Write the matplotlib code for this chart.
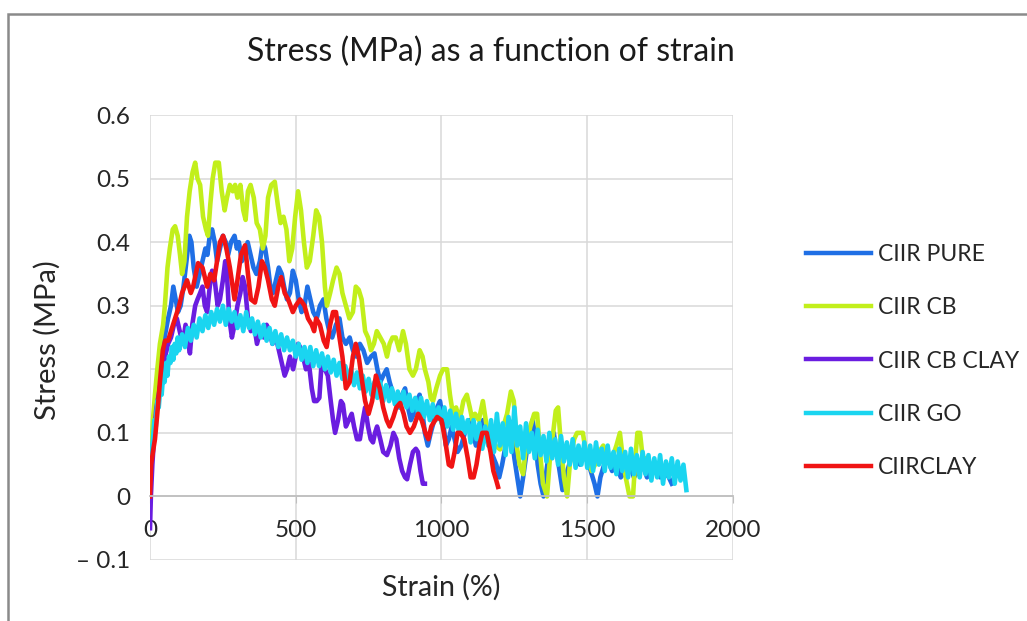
import matplotlib.pyplot as plt
from matplotlib.patches import Rectangle

plt.rcParams['font.family'] = ['Lato', 'DejaVu Sans']

# series names / colours (Excel order, later ones drawn on top)
names = ['CIIR PURE', 'CIIR CB', 'CIIR CB CLAY', 'CIIR GO', 'CIIRCLAY']
colors = ['#1f6fe5', '#c2ef1b', '#6a1de0', '#1ad5f0', '#f01414']

# CIIR PURE
pure_x = [0, 5, 12, 20, 30, 40, 50, 62, 72, 80, 88, 96, 105, 115, 125, 135, 142, 150, 160, 170,
          180, 190, 197, 205, 213, 222, 230, 240, 250, 260, 268, 278, 290, 298, 305, 315, 325, 335,
          345, 355, 365, 377, 387, 395, 405, 413, 422, 432, 442, 452, 460, 470, 480, 490, 500, 510,
          520, 530, 540, 550, 560, 572, 583, 595, 605, 615, 625, 638, 650, 660, 672, 685, 696, 708,
          720, 732, 745, 758, 770, 780, 790, 800, 812, 822, 835, 845, 855, 865, 875, 885, 895, 905,
          915, 925, 935, 943, 953, 963, 975, 985, 995, 1005, 1015, 1025, 1035, 1045, 1055, 1068,
          1080, 1095, 1108, 1118, 1130, 1142, 1155, 1165, 1175, 1188, 1198, 1208, 1220, 1232, 1240,
          1250, 1260, 1270, 1280, 1292, 1302, 1312, 1320, 1330, 1340, 1350, 1360, 1372, 1385, 1395,
          1405, 1415, 1425, 1438, 1450, 1462, 1475, 1488, 1500, 1512, 1525, 1535, 1545, 1558, 1570,
          1585, 1600, 1615, 1630, 1645, 1660, 1675, 1690, 1705, 1720, 1735, 1750, 1765, 1780, 1790]
pure_y = [0.0, 0.05, 0.10, 0.15, 0.19, 0.22, 0.25, 0.28, 0.30, 0.33, 0.31, 0.29, 0.30, 0.33, 0.37,
          0.41, 0.40, 0.36, 0.33, 0.35, 0.37, 0.39, 0.38, 0.41, 0.42, 0.40, 0.37, 0.39, 0.41, 0.40,
          0.38, 0.40, 0.41, 0.39, 0.40, 0.37, 0.38, 0.40, 0.38, 0.36, 0.35, 0.37, 0.40, 0.39, 0.36,
          0.33, 0.32, 0.34, 0.36, 0.35, 0.33, 0.31, 0.32, 0.355, 0.34, 0.31, 0.29, 0.30, 0.33, 0.31,
          0.29, 0.28, 0.30, 0.31, 0.28, 0.26, 0.25, 0.27, 0.28, 0.25, 0.24, 0.25, 0.23, 0.22, 0.24,
          0.23, 0.21, 0.22, 0.225, 0.20, 0.18, 0.19, 0.20, 0.18, 0.16, 0.15, 0.14, 0.16, 0.17, 0.14,
          0.12, 0.13, 0.15, 0.16, 0.13, 0.10, 0.08, 0.10, 0.12, 0.14, 0.15, 0.12, 0.08, 0.09, 0.11,
          0.09, 0.07, 0.08, 0.10, 0.12, 0.10, 0.08, 0.09, 0.12, 0.10, 0.08, 0.065, 0.05, 0.03, 0.05,
          0.08, 0.12, 0.10, 0.06, 0.03, 0.0, 0.03, 0.07, 0.10, 0.12, 0.10, 0.05, 0.02, 0.0, 0.04,
          0.08, 0.10, 0.07, 0.04, 0.01, 0.03, 0.05, 0.07, 0.06, 0.05, 0.07, 0.06, 0.04, 0.02, 0.0,
          0.03, 0.05, 0.06, 0.04, 0.05, 0.03, 0.04, 0.05, 0.03, 0.04, 0.05, 0.03, 0.04, 0.05, 0.03,
          0.04, 0.03, 0.02]

# CIIR CB
cb_x = [0, 5, 10, 17, 25, 34, 45, 51, 60, 68, 78, 86, 95, 103, 110, 118, 127, 136, 146, 155, 163,
        172, 182, 192, 199, 207, 215, 224, 236, 246, 256, 264, 274, 284, 292, 300, 310, 320, 328,
        336, 345, 356, 366, 377, 387, 396, 405, 416, 428, 438, 448, 458, 468, 478, 488, 498, 508,
        518, 528, 538, 548, 560, 570, 580, 590, 600, 607, 618, 628, 640, 650, 660, 672, 684, 696,
        706, 716, 726, 738, 748, 758, 768, 778, 790, 802, 813, 822, 832, 843, 855, 868, 878, 890,
        902, 912, 925, 935, 943, 955, 963, 971, 982, 995, 1005, 1019, 1029, 1039, 1050, 1062, 1075,
        1087, 1097, 1106, 1115, 1128, 1142, 1155, 1170, 1185, 1201, 1212, 1225, 1238, 1248, 1258,
        1268, 1280, 1290, 1305, 1318, 1328, 1338, 1348, 1362, 1372, 1383, 1392, 1400, 1410, 1420,
        1431, 1442, 1455, 1465, 1475, 1485, 1495, 1505, 1515, 1527, 1540, 1555, 1570, 1585, 1600,
        1612, 1622, 1632, 1645, 1657, 1665, 1672, 1681, 1688, 1694, 1700]
cb_y = [0.05, 0.08, 0.12, 0.16, 0.20, 0.24, 0.27, 0.30, 0.36, 0.39, 0.42, 0.425, 0.41, 0.38, 0.35,
        0.37, 0.44, 0.48, 0.51, 0.525, 0.50, 0.49, 0.44, 0.42, 0.41, 0.46, 0.50, 0.525, 0.525, 0.48,
        0.45, 0.47, 0.49, 0.48, 0.49, 0.47, 0.49, 0.45, 0.435, 0.48, 0.49, 0.47, 0.43, 0.42, 0.39,
        0.41, 0.47, 0.49, 0.495, 0.46, 0.43, 0.44, 0.42, 0.37, 0.39, 0.44, 0.48, 0.45, 0.40, 0.36,
        0.37, 0.41, 0.45, 0.44, 0.40, 0.33, 0.30, 0.32, 0.34, 0.36, 0.35, 0.32, 0.30, 0.28, 0.29,
        0.33, 0.325, 0.31, 0.26, 0.25, 0.23, 0.24, 0.26, 0.25, 0.24, 0.22, 0.24, 0.25, 0.25, 0.23,
        0.26, 0.24, 0.20, 0.19, 0.20, 0.23, 0.22, 0.20, 0.18, 0.155, 0.15, 0.17, 0.19, 0.20, 0.20,
        0.16, 0.13, 0.14, 0.12, 0.15, 0.16, 0.14, 0.12, 0.13, 0.12, 0.15, 0.11, 0.09, 0.08, 0.074,
        0.11, 0.13, 0.165, 0.15, 0.08, 0.05, 0.035, 0.08, 0.11, 0.13, 0.13, 0.07, 0.02, 0.0, 0.06,
        0.10, 0.135, 0.14, 0.08, 0.03, 0.0, 0.06, 0.09, 0.10, 0.10, 0.10, 0.07, 0.06, 0.04, 0.05,
        0.07, 0.08, 0.06, 0.06, 0.08, 0.10, 0.06, 0.03, 0.0, 0.0, 0.06, 0.10, 0.10, 0.07, 0.05, 0.06]

# CIIR CB CLAY
cbclay_x = [0, 3, 8, 15, 22, 30, 40, 52, 62, 72, 82, 92, 102, 112, 122, 132, 137, 145, 155, 163,
            172, 180, 188, 196, 205, 213, 222, 232, 240, 250, 258, 264, 272, 281, 290, 300, 310,
            318, 326, 336, 346, 357, 367, 378, 390, 400, 410, 420, 432, 442, 452, 462, 470, 480,
            491, 500, 508, 515, 525, 535, 545, 555, 563, 572, 581, 590, 600, 610, 620, 628, 635,
            645, 655, 662, 672, 682, 692, 700, 710, 720, 730, 738, 748, 757, 765, 772, 779, 790,
            800, 813, 825, 835, 845, 855, 865, 875, 882, 892, 902, 912, 919, 928, 936, 943]
cbclay_y = [-0.05, 0.0, 0.05, 0.10, 0.14, 0.16, 0.19, 0.22, 0.24, 0.25, 0.27, 0.28, 0.26, 0.24,
            0.27, 0.24, 0.225, 0.27, 0.30, 0.31, 0.32, 0.33, 0.30, 0.29, 0.33, 0.355, 0.34, 0.30,
            0.31, 0.34, 0.37, 0.35, 0.28, 0.25, 0.27, 0.30, 0.32, 0.345, 0.33, 0.28, 0.26, 0.27,
            0.24, 0.26, 0.25, 0.27, 0.26, 0.24, 0.25, 0.23, 0.21, 0.19, 0.20, 0.22, 0.20, 0.22,
            0.24, 0.235, 0.22, 0.20, 0.21, 0.17, 0.15, 0.15, 0.155, 0.22, 0.20, 0.19, 0.15, 0.12,
            0.10, 0.12, 0.15, 0.145, 0.11, 0.12, 0.13, 0.11, 0.09, 0.09, 0.12, 0.14, 0.11, 0.09,
            0.085, 0.10, 0.11, 0.09, 0.07, 0.065, 0.08, 0.10, 0.09, 0.06, 0.04, 0.03, 0.027, 0.05,
            0.07, 0.075, 0.07, 0.04, 0.02, 0.02]

# CIIR GO
go_x = [0, 5, 10, 15, 20, 25, 30, 35, 40, 45, 50, 55, 60, 65, 70, 75, 80, 85, 90, 95, 100,
        110, 120, 130, 140, 150, 160, 170, 180, 190, 200, 210, 220, 230, 240, 250, 260, 270, 280,
        290, 300, 310, 320, 330, 340, 350, 360, 370, 380, 390, 400, 410, 420, 430, 440, 450, 460,
        470, 480, 490, 500, 510, 520, 530, 540, 550, 560, 570, 580, 590, 600, 610, 620, 630, 640,
        650, 660, 670, 680, 690, 700, 710, 720, 730, 740, 750, 760, 770, 780, 790, 800, 810, 820,
        830, 840, 850, 860, 870, 880, 890, 900, 910, 920, 930, 940, 950, 960, 970, 980, 990, 1000,
        1010, 1020, 1030, 1040, 1050, 1060, 1070, 1080, 1090, 1100, 1110, 1120, 1130, 1140, 1150,
        1160, 1170, 1180, 1190, 1200, 1210, 1220, 1230, 1240, 1250, 1260, 1270, 1280, 1290, 1300,
        1310, 1320, 1330, 1340, 1350, 1360, 1370, 1380, 1390, 1400, 1410, 1420, 1430, 1440, 1450,
        1460, 1470, 1480, 1490, 1500, 1510, 1520, 1530, 1540, 1550, 1560, 1570, 1580, 1590, 1600,
        1610, 1620, 1630, 1640, 1650, 1660, 1670, 1680, 1690, 1700, 1710, 1720, 1730, 1740, 1750,
        1760, 1770, 1780, 1790, 1800, 1810, 1820, 1830, 1840]
go_y = [0.03, 0.07, 0.09, 0.12, 0.11, 0.15, 0.14, 0.17, 0.16, 0.19, 0.18, 0.21, 0.19, 0.22, 0.21,
        0.235, 0.215, 0.24, 0.225, 0.25, 0.23, 0.255, 0.235, 0.265, 0.245, 0.27, 0.25, 0.28, 0.26,
        0.285, 0.265, 0.29, 0.27, 0.295, 0.275, 0.30, 0.27, 0.295, 0.275, 0.29, 0.265, 0.285, 0.26,
        0.29, 0.265, 0.28, 0.255, 0.275, 0.25, 0.27, 0.245, 0.265, 0.24, 0.26, 0.235, 0.255, 0.23,
        0.25, 0.23, 0.245, 0.22, 0.24, 0.215, 0.235, 0.21, 0.235, 0.205, 0.23, 0.205, 0.225, 0.20,
        0.22, 0.195, 0.215, 0.19, 0.21, 0.185, 0.205, 0.185, 0.20, 0.175, 0.195, 0.17, 0.19, 0.165,
        0.185, 0.16, 0.18, 0.155, 0.18, 0.15, 0.175, 0.15, 0.17, 0.145, 0.165, 0.14, 0.165, 0.14,
        0.16, 0.135, 0.155, 0.13, 0.155, 0.125, 0.15, 0.12, 0.145, 0.12, 0.14, 0.115, 0.14, 0.11,
        0.135, 0.105, 0.13, 0.10, 0.125, 0.10, 0.12, 0.085, 0.12, 0.09, 0.115, 0.075, 0.11, 0.08,
        0.12, 0.07, 0.13, 0.08, 0.115, 0.065, 0.125, 0.07, 0.14, 0.08, 0.11, 0.06, 0.115, 0.07,
        0.10, 0.06, 0.105, 0.065, 0.095, 0.055, 0.10, 0.06, 0.09, 0.05, 0.095, 0.055, 0.085, 0.05,
        0.09, 0.045, 0.08, 0.05, 0.085, 0.045, 0.08, 0.04, 0.085, 0.05, 0.075, 0.04, 0.08, 0.045,
        0.07, 0.035, 0.075, 0.04, 0.07, 0.03, 0.075, 0.035, 0.065, 0.03, 0.07, 0.035, 0.065, 0.025,
        0.06, 0.03, 0.065, 0.02, 0.055, 0.03, 0.06, 0.02, 0.055, 0.025, 0.05, 0.01]

# CIIRCLAY
clay_x = [0, 4, 10, 17, 25, 34, 44, 52, 62, 72, 86, 100, 110, 127, 140, 148, 165, 180, 196, 207,
          220, 230, 240, 251, 262, 274, 290, 300, 312, 326, 336, 346, 360, 372, 384, 394, 405, 418,
          428, 440, 450, 462, 474, 490, 500, 515, 530, 542, 555, 563, 570, 583, 596, 606, 618, 628,
          638, 650, 660, 672, 685, 696, 706, 716, 728, 738, 750, 762, 775, 788, 800, 812, 822, 835,
          845, 858, 870, 880, 892, 905, 920, 932, 945, 955, 965, 985, 1000, 1012, 1025, 1035, 1045,
          1055, 1065, 1078, 1090, 1100, 1110, 1120, 1130, 1140, 1155, 1168, 1178, 1188, 1194]
clay_y = [0.0, 0.05, 0.07, 0.09, 0.13, 0.18, 0.23, 0.245, 0.245, 0.26, 0.28, 0.30, 0.32, 0.34,
          0.32, 0.33, 0.367, 0.36, 0.33, 0.35, 0.34, 0.37, 0.40, 0.41, 0.39, 0.36, 0.31, 0.34, 0.38,
          0.395, 0.35, 0.31, 0.305, 0.33, 0.37, 0.36, 0.34, 0.31, 0.30, 0.33, 0.345, 0.32, 0.31,
          0.29, 0.30, 0.31, 0.30, 0.28, 0.27, 0.26, 0.28, 0.27, 0.245, 0.235, 0.27, 0.29, 0.29,
          0.25, 0.22, 0.17, 0.18, 0.22, 0.24, 0.22, 0.18, 0.15, 0.13, 0.15, 0.19, 0.17, 0.14, 0.12,
          0.11, 0.125, 0.14, 0.147, 0.13, 0.11, 0.10, 0.11, 0.13, 0.12, 0.10, 0.09, 0.11, 0.125,
          0.12, 0.09, 0.05, 0.047, 0.07, 0.10, 0.10, 0.09, 0.06, 0.03, 0.03, 0.05, 0.08, 0.10, 0.10,
          0.07, 0.04, 0.025, 0.015]

series_x = [pure_x, cb_x, cbclay_x, go_x, clay_x]
series_y = [pure_y, cb_y, cbclay_y, go_y, clay_y]

x_ticks = [0, 500, 1000, 1500, 2000]
y_ticks = [-0.1, 0, 0.1, 0.2, 0.3, 0.4, 0.5, 0.6]
y_labels = ['\u2013 0.1', '0', '0.1', '0.2', '0.3', '0.4', '0.5', '0.6']

txt = '#262626'

fig = plt.figure(figsize=(10.27, 6.21), dpi=100)
ax = fig.add_axes([150 / 1027, 1 - 560 / 621, 583 / 1027, 445 / 621])

for xs, ys, name, c in zip(series_x, series_y, names, colors):
    ax.plot(xs, ys, color=c, lw=3.3, label=name, solid_joinstyle='round')

ax.set_xlim(0, 2000)
ax.set_ylim(-0.1, 0.6)
ax.set_xticks(x_ticks)
ax.set_yticks(y_ticks)
ax.set_yticklabels(y_labels)
ax.grid(True, color='#d9d9d9', lw=1.1)
ax.set_axisbelow(True)

for s in ['top', 'right', 'left']:
    ax.spines[s].set_visible(False)
ax.spines['bottom'].set_position(('data', 0))
ax.spines['bottom'].set_color('#bfbfbf')
ax.spines['bottom'].set_linewidth(1.3)
ax.tick_params(axis='x', length=5, color='#bfbfbf', pad=12, labelsize=17.5, labelcolor=txt)
ax.tick_params(axis='y', length=0, pad=14, labelsize=17.5, labelcolor=txt)

fig.text(491 / 1027, 1 - 52 / 621, 'Stress (MPa) as a function of strain',
         ha='center', va='center', fontsize=23, color='#1a1a1a')
fig.text(441 / 1027, 1 - 587 / 621, 'Strain (%)', ha='center', va='center',
         fontsize=20.5, color=txt)
fig.text(47 / 1027, 1 - 340 / 621, 'Stress (MPa)', ha='center', va='center',
         rotation=90, fontsize=21, color=txt)

leg = ax.legend(loc='center left', bbox_to_anchor=(806 / 1027, 1 - 361 / 621),
                bbox_transform=fig.transFigure, frameon=False, fontsize=16.5,
                handlelength=2.85, handletextpad=0.3, labelspacing=1.4,
                borderpad=0, borderaxespad=0)
for t in leg.get_texts():
    t.set_color(txt)
for h in leg.get_lines():
    h.set_linewidth(3.2)

# chart area border (only top and left edges fall inside the picture)
fig.add_artist(Rectangle((8 / 1027, -0.1), 1.2, 1.1 - 14 / 621, transform=fig.transFigure,
                         fill=False, edgecolor='#8a8a8a', lw=1.8, clip_on=False))

fig.savefig('out.png', dpi=100)
